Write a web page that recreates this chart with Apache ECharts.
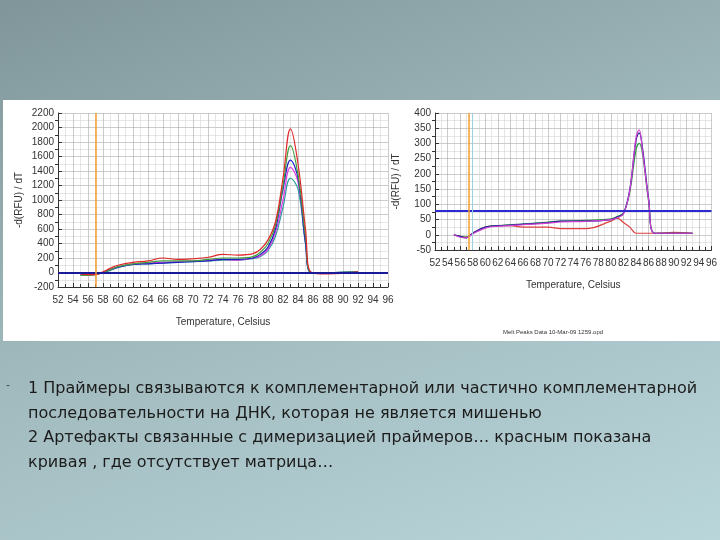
<!DOCTYPE html>
<html><head><meta charset="utf-8">
<script src="https://cdn.jsdelivr.net/npm/echarts@6/dist/echarts.min.js"></script>
<style>
html,body{margin:0;padding:0;width:720px;height:540px;overflow:hidden}
body{background:linear-gradient(160deg,#7f9599 0%,#9fb8bc 45%,#b9d6da 100%);font-family:"Liberation Sans",Arial,sans-serif;position:relative}
#c{position:absolute;left:0;top:0;width:720px;height:540px}
#t{position:absolute;left:28px;top:376px;width:680px;font-family:"DejaVu Sans",sans-serif;font-size:16px;line-height:24.5px;color:#1c1c1c}
#b{position:absolute;left:6px;top:378px;font-size:12px;color:#555}
</style></head><body>
<div id="c"></div>
<div id="b">-</div>
<div id="t">1 Праймеры связываются к комплементарной или частично комплементарной последовательности на ДНК, которая не является мишенью<br>2 Артефакты связанные с димеризацией праймеров… красным показана кривая , где отсутствует матрица…</div>
<script>
const tempsL=[55,56,57,58,59,60,62,64,66,68,70,72,74,76,78,79,80,81,82,83,84,85,85.8,88,92];
const redL=[-20,-30,-30,10,60,100,140,160,200,180,190,210,250,240,260,320,450,700,1300,1980,1500,600,0,-20,10];
const greenL=[-40,-40,-30,0,40,80,120,140,160,160,160,180,200,200,220,280,400,650,1200,1750,1350,500,0,0,10];
const blueL=[-20,-20,-20,0,40,70,110,120,130,140,150,160,180,180,200,250,350,600,1150,1550,1300,400,0,0,10];
const magentaL=[-30,-40,-30,0,40,80,120,130,140,150,160,170,180,170,200,230,320,550,1000,1450,1250,450,0,-10,10];
const tealL=[-30,-30,-20,0,30,70,110,120,130,140,150,160,170,170,190,220,300,500,900,1300,1150,400,0,0,10];
const tempsR=[55,56,57,58,60,62,64,66,70,72,76,80,81,82,83,84,84.5,85,86,87,90,93];
const blueR=[0,-5,-10,5,25,30,32,35,40,45,45,50,58,70,150,310,335,290,120,5,5,5];
const greenR=[0,-5,-8,5,25,30,33,35,42,45,47,52,60,72,140,280,300,270,110,5,5,5];
const magentaR=[0,-8,-10,3,22,28,30,33,38,42,44,50,56,68,145,320,345,280,115,5,5,5];
const redR=[0,-5,-8,5,25,30,30,25,25,20,20,45,55,40,25,5,5,5,5,5,8,5];
const xTicks=[52,96,2];
const yL=[-200,2200,200], yR=[-50,400,50];
const pairs=(xs,ys)=>xs.map((x,i)=>[x,ys[i]]);
const ax=(i)=>({type:'value',gridIndex:i,min:xTicks[0],max:xTicks[1],interval:xTicks[2],
  name:'Temperature, Celsius',nameLocation:'middle',nameGap:30,nameTextStyle:{fontSize:10,color:'#333'},
  axisLine:{onZero:false,lineStyle:{color:'#333'}},axisTick:{length:-4,lineStyle:{color:'#333'}},
  axisLabel:{fontSize:10,color:'#333',margin:8},
  splitLine:{show:true,lineStyle:{color:'#aaa',width:0.6}},
  minorTick:{show:true,splitNumber:2,length:-3},minorSplitLine:{show:true,lineStyle:{color:'#ccc',width:0.5}}});
const ay=(i,r,nm)=>({type:'value',gridIndex:i,min:r[0],max:r[1],interval:r[2],name:nm,nameLocation:'middle',nameGap:34,
  nameTextStyle:{fontSize:10,color:'#333'},axisLine:{show:true,lineStyle:{color:'#333'}},axisTick:{show:true,length:-4},
  axisLabel:{fontSize:10,color:'#333',margin:4,formatter:v=>String(v)},splitLine:{lineStyle:{color:'#aaa',width:0.6}},
  minorTick:{show:true,splitNumber:2},minorSplitLine:{show:true,lineStyle:{color:'#ccc',width:0.5}}});
const ln=(g,data,color,ml)=>({type:'line',xAxisIndex:g,yAxisIndex:g,data,smooth:0.4,showSymbol:false,
  lineStyle:{color,width:1.2},markLine:ml});
const mlL={silent:true,symbol:'none',label:{show:false},data:[{yAxis:0,lineStyle:{color:'#1a1a99',width:2,type:'solid'}},{xAxis:57,lineStyle:{color:'#f0a030',width:1.5,type:'solid'}}]};
const mlR={silent:true,symbol:'none',label:{show:false},data:[{yAxis:80,lineStyle:{color:'#2a2ad0',width:2,type:'solid'}},{xAxis:57.4,lineStyle:{color:'#f0a030',width:1.5,type:'solid'}},{xAxis:58,lineStyle:{color:'#9ad0e0',width:1,type:'solid'}}]};
const chart=echarts.init(document.getElementById('c'));
chart.setOption({animation:false,
 graphic:[{type:'rect',shape:{x:3,y:100,width:394,height:241},style:{fill:'#fff'},z:-10},
          {type:'rect',shape:{x:396,y:100,width:324,height:241},style:{fill:'#fff'},z:-10},
          {type:'text',left:503,top:329,style:{text:'Melt Peaks Data 10-Mar-09 1259.opd',fontSize:6,fill:'#333'}}],
 grid:[{left:58,top:113,width:330,height:174},{left:435,top:113,width:285,height:137}],
 xAxis:[ax(0),ax(1)],
 yAxis:[ay(0,yL,'-d(RFU) / dT'),ay(1,yR,'-d(RFU) / dT')],
 series:[ln(0,pairs(tempsL,tealL),'#2aa0a0',mlL),ln(0,pairs(tempsL,magentaL),'#e040e0'),ln(0,pairs(tempsL,blueL),'#2020c0'),
   ln(0,pairs(tempsL,greenL),'#40a040'),ln(0,pairs(tempsL,redL),'#e02828'),
   ln(1,pairs(tempsR,redR),'#e04040',mlR),ln(1,pairs(tempsR,greenR),'#30a040'),ln(1,pairs(tempsR,blueR),'#2020a0'),ln(1,pairs(tempsR,magentaR),'#d040d0')]
});
</script></body></html>
